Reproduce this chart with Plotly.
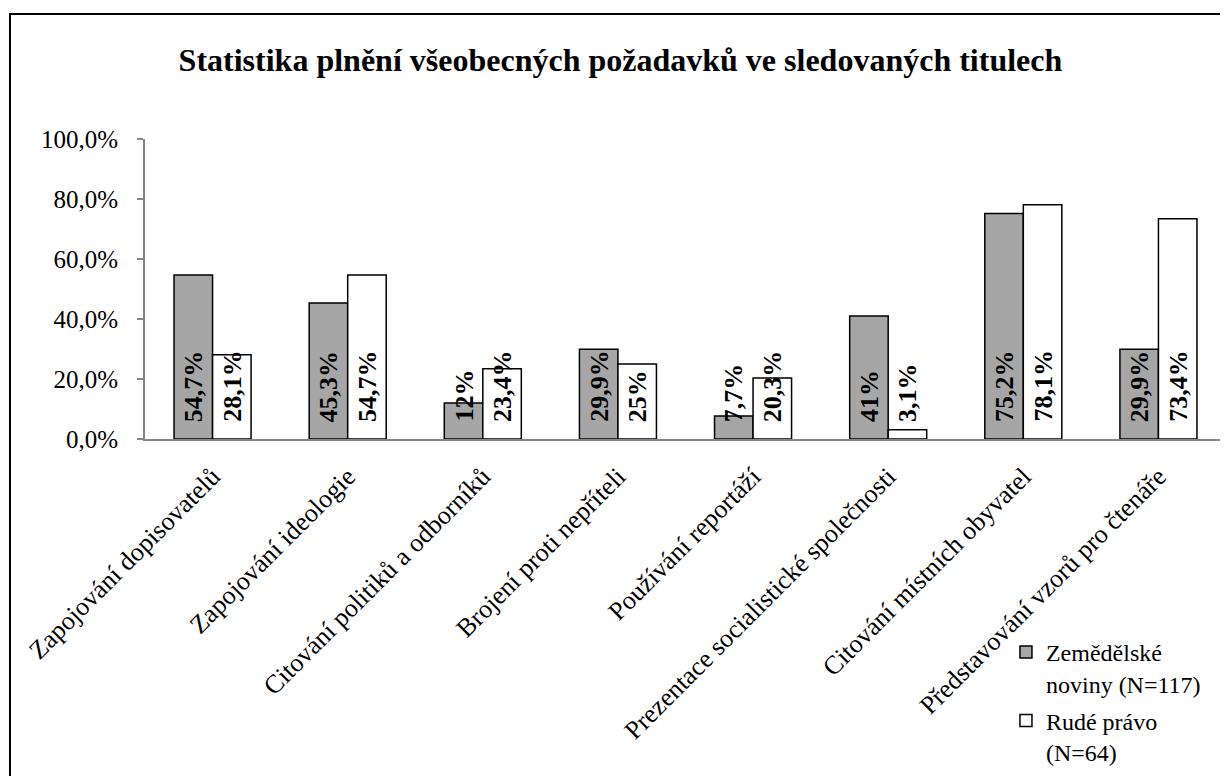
import plotly.graph_objects as go

SERIF = "Liberation Serif"
GRAY = "#a6a6a6"
AXIS = "#868686"

categories = [
    "Zapojování dopisovatelů",
    "Zapojování ideologie",
    "Citování politiků a odborníků",
    "Brojení proti nepříteli",
    "Používání reportáží",
    "Prezentace socialistické společnosti",
    "Citování místních obyvatel",
    "Představování vzorů pro čtenáře",
]
zemedelske = [0.547, 0.453, 0.12, 0.299, 0.077, 0.41, 0.752, 0.299]
rude_pravo = [0.281, 0.547, 0.234, 0.25, 0.203, 0.031, 0.781, 0.734]
labels_zn = ["54,7%", "45,3%", "12%", "29,9%", "7,7%", "41%", "75,2%", "29,9%"]
labels_rp = ["28,1%", "54,7%", "23,4%", "25%", "20,3%", "3,1%", "78,1%", "73,4%"]

BAR_W = 0.285
idx = list(range(len(categories)))

fig = go.Figure()
fig.add_trace(go.Bar(
    x=[i - BAR_W / 2 for i in idx], y=zemedelske, width=BAR_W,
    name="Zemědělské<br>noviny (N=117)", legendgroup="zn",
    marker=dict(color=GRAY, line=dict(color="black", width=1.5)),
))
fig.add_trace(go.Bar(
    x=[i + BAR_W / 2 for i in idx], y=rude_pravo, width=BAR_W,
    name="Rudé právo<br>(N=64)", legendgroup="rp",
    marker=dict(color="white", line=dict(color="black", width=1.5)),
))

# value labels, rotated, sitting at the base of each bar
for i in idx:
    for dx, txt in ((-BAR_W / 2, labels_zn[i]), (BAR_W / 2, labels_rp[i])):
        fig.add_annotation(
            x=i + dx, y=0, text=txt, textangle=-90,
            xanchor="center", yanchor="bottom", yshift=15,
            showarrow=False,
            font=dict(family=SERIF, size=26, color="black", weight="bold"),
        )

# outer chart border (runs off the right and bottom edges)
fig.add_shape(type="rect", xref="paper", yref="paper",
              x0=-0.1249, x1=1.1, y0=-1.3, y1=1.4167,
              line=dict(color="black", width=2), fillcolor="rgba(0,0,0,0)")

# page body has an 8px margin, so the figure is 8px smaller than the window
fig.update_layout(
    width=1220, height=768,
    margin=dict(l=137, r=2, t=131, b=337, autoexpand=False),
    paper_bgcolor="white", plot_bgcolor="white",
    separators=", ",
    barmode="overlay",
    font=dict(family=SERIF, size=25, color="black"),
    title=dict(text="Statistika plnění všeobecných požadavků ve sledovaných titulech",
               font=dict(family=SERIF, size=32, color="black", weight="bold"),
               x=0.502, xanchor="center", yref="container", y=1 - 52 / 768, yanchor="middle"),
    legend=dict(xref="container", yref="container", x=0.818, y=0.1902,
                xanchor="left", yanchor="top", valign="top",
                bgcolor="rgba(0,0,0,0)", font=dict(family=SERIF, size=24),
                traceorder="grouped", tracegroupgap=3),
    showlegend=True,
)
fig.update_xaxes(
    range=[-0.5, 7.5], tickvals=idx, ticktext=categories, tickangle=-45,
    showline=True, linecolor=AXIS, linewidth=2, showgrid=False, zeroline=False,
    ticks="", ticklabelstandoff=10, tickfont=dict(family=SERIF, size=26),
)
fig.update_yaxes(
    range=[0, 1], tickvals=[0, 0.2, 0.4, 0.6, 0.8, 1.0], tickformat=".1%",
    showline=True, linecolor=AXIS, linewidth=2, showgrid=False, zeroline=False,
    ticks="outside", ticklen=6, tickcolor=AXIS, tickwidth=2,
    ticklabelstandoff=14,
    tickfont=dict(family=SERIF, size=25),
)

fig.write_html("out.html")
